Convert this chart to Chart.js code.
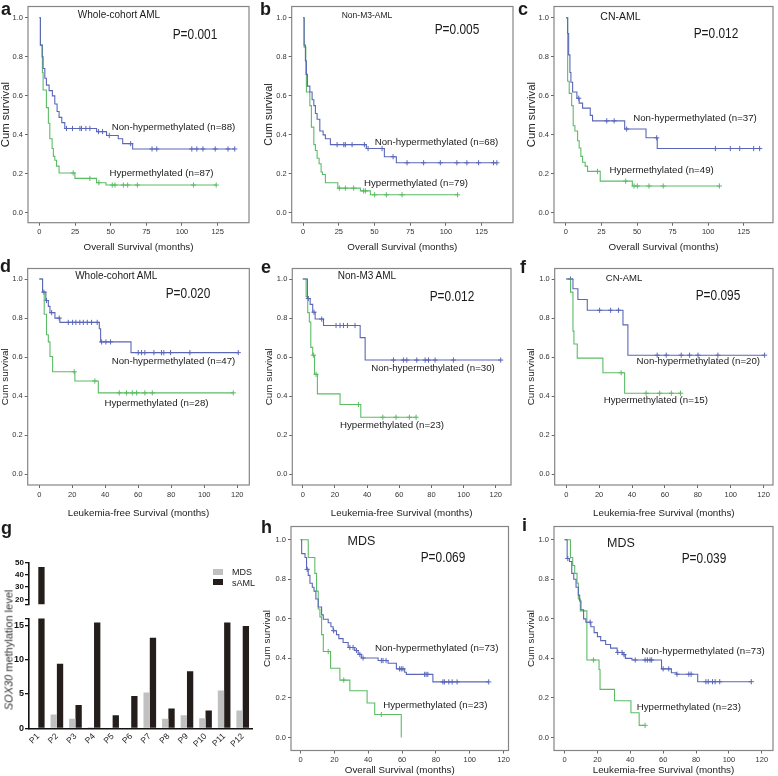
<!DOCTYPE html>
<html>
<head>
<meta charset="utf-8">
<script src="https://cdn.jsdelivr.net/npm/chart.js@4.4.1/dist/chart.umd.min.js"></script>
<style>
  body { margin: 0; background: #fff; overflow: hidden; }
  #fig { position: relative; width: 778px; height: 776px; font-family: "Liberation Sans", Arial, sans-serif; color: #1a1a1a; }
  #fig canvas { position: absolute; }
  .t { position: absolute; white-space: nowrap; line-height: 1; transform: translate(-50%, -50%); }
  .s { font-size: 10px; }
  .p { font-size: 14px; transform: translate(-50%, -50%) scaleX(0.85); }
  .n { font-size: 9.7px; }
  .m { font-size: 12.5px; }
  .L { position: absolute; font-weight: bold; font-size: 18px; line-height: 1; }
  .sw { position: absolute; width: 10px; height: 6px; }
  .lg { position: absolute; font-size: 9px; line-height: 1; transform: translateY(-50%); }
</style>
</head>
<body>
<div id="fig">
  <canvas id="ka"></canvas><canvas id="kb"></canvas><canvas id="kc"></canvas>
  <canvas id="kd"></canvas><canvas id="ke"></canvas><canvas id="kf"></canvas>
  <canvas id="gUp"></canvas><canvas id="gLow"></canvas>
  <canvas id="kh"></canvas><canvas id="ki"></canvas>

  <!-- panel letters -->
  <div class="L" style="left:1px;top:0px">a</div>
  <div class="L" style="left:260px;top:0px">b</div>
  <div class="L" style="left:518px;top:0px">c</div>
  <div class="L" style="left:0px;top:257px">d</div>
  <div class="L" style="left:261px;top:258px">e</div>
  <div class="L" style="left:520px;top:258px">f</div>
  <div class="L" style="left:1px;top:519px">g</div>
  <div class="L" style="left:261px;top:518px">h</div>
  <div class="L" style="left:522px;top:516px">i</div>

  <!-- a -->
  <div class="t s" style="left:119px;top:15px">Whole-cohort AML</div>
  <div class="t p" style="left:195px;top:34px">P=0.001</div>
  <div class="t n" style="left:173.5px;top:127px">Non-hypermethylated (n=88)</div>
  <div class="t n" style="left:161.5px;top:173px">Hypermethylated (n=87)</div>
  <!-- b -->
  <div class="t s" style="left:367px;top:15px;font-size:8.5px">Non-M3-AML</div>
  <div class="t p" style="left:457px;top:29px">P=0.005</div>
  <div class="t n" style="left:436.5px;top:142px">Non-hypermethylated (n=68)</div>
  <div class="t n" style="left:416px;top:183px">Hypermethylated (n=79)</div>
  <!-- c -->
  <div class="t s" style="left:620.5px;top:16px;font-size:10.5px">CN-AML</div>
  <div class="t p" style="left:716px;top:33px">P=0.012</div>
  <div class="t n" style="left:695px;top:118px">Non-hypermethylated (n=37)</div>
  <div class="t n" style="left:661.7px;top:170px">Hypermethylated (n=49)</div>
  <!-- d -->
  <div class="t s" style="left:116.3px;top:276px">Whole-cohort AML</div>
  <div class="t p" style="left:187.5px;top:293px">P=0.020</div>
  <div class="t n" style="left:173.5px;top:361px">Non-hypermethylated (n=47)</div>
  <div class="t n" style="left:156.5px;top:403px">Hypermethylated (n=28)</div>
  <!-- e -->
  <div class="t s" style="left:367px;top:276px">Non-M3 AML</div>
  <div class="t p" style="left:452px;top:296px">P=0.012</div>
  <div class="t n" style="left:433px;top:368px">Non-hypermethylated (n=30)</div>
  <div class="t n" style="left:392px;top:425px">Hypermethylated (n=23)</div>
  <!-- f -->
  <div class="t s" style="left:624px;top:278px;font-size:9.5px">CN-AML</div>
  <div class="t p" style="left:717.7px;top:295px">P=0.095</div>
  <div class="t n" style="left:698.3px;top:361px">Non-hypermethylated (n=20)</div>
  <div class="t n" style="left:655.8px;top:400px">Hypermethylated (n=15)</div>
  <!-- h -->
  <div class="t m" style="left:361.5px;top:541px">MDS</div>
  <div class="t p" style="left:443px;top:557px">P=0.069</div>
  <div class="t n" style="left:436.7px;top:648px">Non-hypermethylated (n=73)</div>
  <div class="t n" style="left:435.3px;top:705px">Hypermethylated (n=23)</div>
  <!-- i -->
  <div class="t m" style="left:621px;top:543px">MDS</div>
  <div class="t p" style="left:703.5px;top:558px">P=0.039</div>
  <div class="t n" style="left:703px;top:651px">Non-hypermethylated (n=73)</div>
  <div class="t n" style="left:688.8px;top:707px">Hypermethylated (n=23)</div>

  <!-- g -->
  <div class="t" style="left:8.5px;top:650px;font-size:11px;color:#333;transform:translate(-50%,-50%) rotate(-90deg)"><i>SOX30</i> methylation level</div>
  <div class="sw" style="left:213px;top:569px;background:#c0c0c0"></div>
  <div class="lg" style="left:232px;top:572px">MDS</div>
  <div class="sw" style="left:213px;top:579px;background:#231e1b"></div>
  <div class="lg" style="left:232px;top:582.5px">sAML</div>
</div>

<script>
// ---- tick labels ----
const survTicks = [0, 0.2, 0.4, 0.6, 0.8, 1.0];
const osTicks = [0, 25, 50, 75, 100, 125];
const lfsTicks = [0, 20, 40, 60, 80, 100, 120];

// ---- a: whole-cohort AML, overall survival ----
const aNonT = [0, 0.7, 1.9, 2.6, 3.8, 4.9, 6.8, 9.1, 10.8, 12.4, 13.8, 15.7, 17.8, 40.1, 47.1, 55.3, 58.4, 65.4, 137];
const aNonS = [1, 0.86, 0.80, 0.74, 0.69, 0.655, 0.627, 0.60, 0.558, 0.52, 0.49, 0.463, 0.433, 0.417, 0.397, 0.38, 0.355, 0.328, 0.328];
const aNonC = [19.0, 23.2, 28.4, 29.5, 32.6, 35.4, 41.5, 44.3, 49, 64.0, 79.0, 82.3, 106.9, 110.4, 114.7, 123.3, 132.3, 137];
const aHypT = [0, 0.7, 2.1, 2.6, 4.9, 6.3, 7.3, 8.9, 9.8, 10.8, 12.0, 13.8, 24.9, 40.1, 46.7, 124];
const aHypS = [1, 0.86, 0.72, 0.63, 0.54, 0.46, 0.38, 0.33, 0.29, 0.27, 0.24, 0.205, 0.177, 0.155, 0.143, 0.143];
const aHypC = [23.7, 35.4, 41.7, 51.1, 53.0, 58.9, 61.9, 68.7, 108.1, 124];

// ---- b: non-M3 AML, overall survival ----
const bNonT = [0, 0.7, 1.6, 2.3, 3.0, 4.7, 6.3, 7.5, 8.6, 9.8, 11.7, 14.0, 15.6, 19.1, 44.3, 56.9, 65.3, 135.7];
const bNonS = [1, 0.86, 0.78, 0.71, 0.65, 0.62, 0.58, 0.55, 0.51, 0.48, 0.42, 0.40, 0.38, 0.35, 0.33, 0.288, 0.257, 0.257];
const bNonC = [23.8, 28.5, 29.6, 34.3, 42.9, 45.5, 55.3, 63.0, 72.8, 84.4, 96.1, 107.7, 114.7, 122.9, 133.4, 135.7];
const bHypT = [0, 0.7, 1.9, 2.3, 4.7, 5.8, 7.5, 8.6, 9.8, 11.2, 12.6, 13.5, 15.6, 24.3, 40.1, 47.1, 108.2];
const bHypS = [1, 0.85, 0.71, 0.62, 0.55, 0.44, 0.35, 0.32, 0.28, 0.252, 0.21, 0.197, 0.155, 0.127, 0.113, 0.093, 0.093];
const bHypC = [25.4, 29.6, 35.4, 42.4, 43.6, 50.1, 58.3, 69.3, 108.2];

// ---- c: CN-AML, overall survival ----
const cNonT = [0, 1.2, 1.9, 2.8, 3.5, 4.7, 7.7, 9.3, 11.7, 17.1, 18.7, 41.3, 56.3, 64.2, 136.2];
const cNonS = [1, 0.92, 0.81, 0.72, 0.67, 0.62, 0.588, 0.563, 0.537, 0.5, 0.472, 0.43, 0.385, 0.33, 0.33];
const cNonC = [9.0, 28.7, 33.9, 42.7, 63.8, 105.1, 115.6, 122.2, 132.0, 136.2];
const cHypT = [0, 1.2, 2.3, 4.0, 5.1, 6.3, 8.2, 9.3, 10.5, 11.7, 13.5, 15.2, 24.1, 46.7, 107.9];
const cHypS = [1, 0.675, 0.613, 0.55, 0.447, 0.42, 0.37, 0.333, 0.29, 0.26, 0.24, 0.213, 0.163, 0.138, 0.138];
const cHypC = [22.2, 42.0, 47.9, 50.2, 58.4, 68.4, 107.9];

// ---- d: whole-cohort AML, leukemia-free survival ----
const dNonT = [0, 2.0, 4.0, 5.5, 6.5, 9.5, 12.5, 36.4, 37.2, 55.6, 120.6];
const dNonS = [1, 0.933, 0.89, 0.86, 0.828, 0.80, 0.778, 0.745, 0.678, 0.623, 0.623];
const dNonC = [2.8, 4.4, 7.5, 12.1, 17.6, 20.2, 22.2, 24.6, 26.7, 29.1, 31.7, 35.1, 37.8, 40.4, 43.2, 60.0, 62.0, 64.0, 69.5, 74.1, 75.5, 79.6, 91.3, 120.6];
const dHypT = [0, 2.0, 3.0, 4.4, 5.5, 6.5, 8.1, 21.6, 35.8, 117.6];
const dHypS = [1, 0.933, 0.82, 0.715, 0.678, 0.603, 0.525, 0.478, 0.417, 0.417];
const dHypC = [21.2, 33.7, 48.5, 52.9, 56.4, 59.0, 64.0, 68.5, 117.6];

// ---- e: non-M3 AML, leukemia-free survival ----
const eNonT = [0, 2.9, 4.6, 6.2, 7.7, 12.9, 35.7, 38.8, 123.1];
const eNonS = [1, 0.90, 0.87, 0.83, 0.795, 0.762, 0.70, 0.585, 0.585];
const eNonC = [3.5, 7.0, 11.8, 20.7, 23.2, 25.3, 27.8, 32.5, 56.4, 62.6, 64.7, 70.9, 76.1, 78.2, 82.3, 93.7, 123.1];
const eHypT = [0, 2.1, 3.1, 4.1, 5.0, 6.2, 7.3, 9.1, 23.2, 36.1, 70.5];
const eHypS = [1, 0.91, 0.828, 0.78, 0.65, 0.61, 0.512, 0.412, 0.357, 0.292, 0.292];
const eHypC = [6.6, 8.3, 34.6, 49.8, 58.0, 66.3, 70.5];

// ---- f: CN-AML, leukemia-free survival ----
const fNonT = [0, 4.1, 7.1, 12.8, 34.5, 37.5, 120.6];
const fNonS = [1, 0.95, 0.895, 0.84, 0.765, 0.61, 0.61];
const fNonC = [2.6, 20.3, 27.0, 31.8, 55.3, 60.8, 69.9, 75.0, 80.1, 92.2, 120.6];
const fHypT = [0, 2.6, 4.1, 4.7, 6.7, 22.3, 35.5, 69.5];
const fHypS = [1, 0.933, 0.733, 0.667, 0.595, 0.52, 0.415, 0.415];
const fHypC = [33.4, 48.6, 56.8, 63.9, 69.5];

// ---- h: MDS, overall survival ----
const hNonT = [0, 0.6, 2.6, 3.5, 4.5, 5.5, 6.9, 7.9, 9.0, 10.4, 12.4, 13.4, 16.3, 17.9, 19.2, 21.2, 22.6, 25.1, 28.1, 32.0, 34.0, 35.9, 45.8, 51.7, 56.6, 61.5, 62.5, 78.2, 111.2];
const hNonS = [1, 0.93, 0.91, 0.85, 0.82, 0.78, 0.76, 0.74, 0.70, 0.66, 0.62, 0.598, 0.58, 0.56, 0.54, 0.52, 0.50, 0.48, 0.455, 0.44, 0.42, 0.402, 0.389, 0.375, 0.347, 0.33, 0.319, 0.281, 0.281];
const hNonC = [3.9, 19.5, 29.1, 31.0, 33.0, 35.0, 36.9, 47.7, 48.7, 50.5, 58.5, 59.5, 60.5, 73.3, 74.2, 75.2, 84.1, 85.0, 87.6, 89.6, 92.5, 111.2];
const hHypT = [0, 4.5, 8.4, 9.4, 10.4, 11.4, 12.4, 13.4, 17.7, 23.2, 29.1, 39.3, 43.8, 59.5];
const hHypS = [1, 0.91, 0.83, 0.74, 0.65, 0.61, 0.52, 0.435, 0.35, 0.29, 0.236, 0.174, 0.116, 0];
const hHypC = [16.3, 25.5, 47.7];

// ---- i: MDS, leukemia-free survival ----
const iNonT = [0, 1.6, 3.0, 4.4, 5.6, 7.0, 8.4, 9.2, 10.0, 11.6, 13.0, 16.0, 18.0, 20.0, 22.0, 25.0, 28.0, 32.0, 35.6, 37.0, 41.0, 59.0, 65.0, 68.0, 81.0, 113.6];
const iNonS = [1, 0.905, 0.89, 0.83, 0.80, 0.76, 0.72, 0.69, 0.646, 0.60, 0.583, 0.56, 0.53, 0.51, 0.49, 0.47, 0.452, 0.43, 0.419, 0.40, 0.392, 0.347, 0.327, 0.32, 0.282, 0.282];
const iNonC = [2.0, 15.6, 32.4, 35.0, 36.2, 43.0, 49.0, 50.4, 52.0, 53.0, 60.0, 63.4, 68.4, 75.6, 77.0, 86.0, 87.4, 90.0, 91.6, 94.4, 113.6];
const iHypT = [0, 3.6, 5.0, 6.2, 7.6, 8.4, 9.6, 13.6, 21.0, 21.6, 30.4, 40.4, 45.4, 49];
const iHypS = [1, 0.91, 0.87, 0.83, 0.78, 0.70, 0.64, 0.392, 0.344, 0.243, 0.186, 0.125, 0.061, 0.061];
const iHypC = [17.6, 49];

// ---- g: SOX30 methylation, paired MDS / sAML ----
const gPatients = ['P1', 'P2', 'P3', 'P4', 'P5', 'P6', 'P7', 'P8', 'P9', 'P10', 'P11', 'P12'];
const gMDS = [0, 2.0, 1.4, 0.15, 0, 0, 5.2, 1.4, 1.9, 1.45, 5.5, 2.6];
const gSAML = [46.5, 9.4, 3.4, 15.4, 1.9, 4.7, 13.2, 2.9, 8.3, 2.6, 15.4, 14.9];
const gUpTicks = [16, 20, 30, 40, 50];
const gLowTicks = [0, 5, 10, 15, 16];

const BLUE = '#5a67b8';
const GREEN = '#5cbc66';
const MDS_GRAY = '#c0c0c0';
const SAML_DARK = '#231e1b';
const FONT = '"Liberation Sans", Arial, sans-serif';
Chart.defaults.font.family = FONT;

// box around the plotting area, like SPSS output
const frame = {
  id: 'frame',
  afterDraw(chart) {
    const { ctx, chartArea: a } = chart;
    ctx.save();
    ctx.strokeStyle = '#858585';
    ctx.lineWidth = 1.2;
    ctx.strokeRect(a.left, a.top, a.right - a.left, a.bottom - a.top);
    ctx.restore();
  }
};

function stepLine(T, S, color) {
  return {
    data: T.map((t, i) => ({ x: t, y: S[i] })),
    borderColor: color, borderWidth: 1.1, stepped: 'before',
    pointRadius: 0, fill: false
  };
}

// censor ticks sit on the curve at the censoring time
function censors(T, S, C, color) {
  return {
    data: C.map(c => ({ x: c, y: S[T.filter(t => t <= c).length - 1] })),
    showLine: false, pointStyle: 'cross', pointRadius: 2.6,
    pointBorderColor: color, pointBorderWidth: 1
  };
}

function place(cv, rect) {
  cv.style.left = rect[0] + 'px';
  cv.style.top = rect[1] + 'px';
  cv.width = rect[2] - rect[0];
  cv.height = rect[3] - rect[1];
}

function km(id, o) {
  const cv = document.getElementById(id);
  place(cv, o.rect);
  const yW = o.box[0] - o.rect[0];
  const xH = o.rect[3] - o.box[3];
  new Chart(cv, {
    type: 'line',
    data: {
      datasets: [
        stepLine(o.non[0], o.non[1], BLUE),
        stepLine(o.hyp[0], o.hyp[1], GREEN),
        censors(o.non[0], o.non[1], o.non[2], BLUE),
        censors(o.hyp[0], o.hyp[1], o.hyp[2], GREEN)
      ]
    },
    options: {
      responsive: false,
      animation: false,
      layout: { padding: { top: o.box[1] - o.rect[1], right: o.rect[2] - o.box[2], left: 0, bottom: 0 } },
      plugins: { legend: { display: false }, tooltip: { enabled: false } },
      scales: {
        x: {
          type: 'linear', min: o.xr[0], max: o.xr[1],
          afterBuildTicks: s => { s.ticks = o.xt.map(v => ({ value: v })); },
          afterFit: s => { s.height = xH; },
          grid: { drawOnChartArea: false, drawTicks: true, tickLength: 3, color: '#666' },
          border: { display: false },
          ticks: { autoSkip: false, maxRotation: 0, padding: 2, color: '#333', font: { size: 7.5 }, callback: v => String(v) },
          title: { display: true, text: o.xTitle, color: '#222', font: { size: 9.8 }, padding: 0 }
        },
        y: {
          min: o.yr[0], max: o.yr[1],
          afterBuildTicks: s => { s.ticks = survTicks.map(v => ({ value: v })); },
          afterFit: s => { s.width = yW; },
          grid: { drawOnChartArea: false, drawTicks: true, tickLength: 3, color: '#666' },
          border: { display: false },
          ticks: { autoSkip: false, padding: 2, color: '#333', font: { size: 7.5 }, callback: v => v.toFixed(1) },
          title: { display: true, text: 'Cum survival', color: '#222', font: { size: o.yTitle }, padding: 0 }
        }
      }
    },
    plugins: [frame]
  });
}

const OS = 'Overall Survival (months)';
const LFS = 'Leukemia-free Survival (months)';
const row1Y = [-0.05, 1.058], row2Y = [-0.055, 1.054], row3Y = [-0.066, 1.067];

km('ka', { rect: [-1, 0, 256, 253], box: [28, 1, 249, 222.7], xr: [-8, 147], yr: row1Y, xt: osTicks, xTitle: OS, yTitle: 11.3, non: [aNonT, aNonS, aNonC], hyp: [aHypT, aHypS, aHypC] });
km('kb', { rect: [263, 0, 518, 253], box: [291.7, 1, 513, 222.7], xr: [-8, 147], yr: row1Y, xt: osTicks, xTitle: OS, yTitle: 10.8, non: [bNonT, bNonS, bNonC], hyp: [bHypT, bHypS, bHypC] });
km('kc', { rect: [525, 0, 778, 253], box: [554, 1, 774, 222.7], xr: [-8.4, 145.6], yr: row1Y, xt: osTicks, xTitle: OS, yTitle: 11.3, non: [cNonT, cNonS, cNonC], hyp: [cHypT, cHypS, cHypC] });

km('kd', { rect: [-1, 262, 256, 519], box: [27.7, 263.3, 249.3, 485], xr: [-7, 127.3], yr: row2Y, xt: lfsTicks, xTitle: LFS, yTitle: 9.9, non: [dNonT, dNonS, dNonC], hyp: [dHypT, dHypS, dHypC] });
km('ke', { rect: [263, 262, 518, 519], box: [292.3, 263.3, 511, 485], xr: [-6.5, 129.5], yr: row2Y, xt: lfsTicks, xTitle: LFS, yTitle: 9.9, non: [eNonT, eNonS, eNonC], hyp: [eHypT, eHypS, eHypC] });
km('kf', { rect: [525, 262, 778, 519], box: [554.7, 263.3, 773, 485], xr: [-7, 125.7], yr: row2Y, xt: lfsTicks, xTitle: LFS, yTitle: 9.9, non: [fNonT, fNonS, fNonC], hyp: [fHypT, fHypS, fHypC] });

km('kh', { rect: [261, 520, 516, 776], box: [291, 523.3, 508.5, 750.5], xr: [-5.7, 122.9], yr: row3Y, xt: lfsTicks, xTitle: OS, yTitle: 9.9, non: [hNonT, hNonS, hNonC], hyp: [hHypT, hHypS, hHypC] });
km('ki', { rect: [525, 520, 778, 776], box: [554, 523.3, 776, 750.5], xr: [-6.4, 126.8], yr: row3Y, xt: lfsTicks, xTitle: LFS, yTitle: 9.9, non: [iNonT, iNonS, iNonC], hyp: [iHypT, iHypS, iHypC] });

// ---- g: broken y axis drawn as two stacked bar charts sharing the categories ----
function gBars() {
  return [
    { label: 'MDS', data: gMDS, backgroundColor: MDS_GRAY, clip: 0 },
    { label: 'sAML', data: gSAML, backgroundColor: SAML_DARK, clip: 0 }
  ];
}
// the 16 tick on each half only marks the break, it carries no label
const gYAxis = (min, max, ticks, size) => ({
  min: min, max: max,
  afterBuildTicks: s => { s.ticks = ticks.map(v => ({ value: v })); },
  afterFit: s => { s.width = 29; },
  grid: { drawOnChartArea: false, drawTicks: true, tickLength: 4, color: '#111', lineWidth: 1.3 },
  border: { display: true, color: '#111', width: 1.6 },
  ticks: { autoSkip: false, padding: 1, color: '#111', font: { size: size, weight: 'bold' }, callback: v => v === 16 ? '' : String(v) }
});

const gUpCv = document.getElementById('gUp');
place(gUpCv, [0, 556, 260, 610]);
new Chart(gUpCv, {
  type: 'bar',
  data: { labels: gPatients, datasets: gBars() },
  options: {
    responsive: false, animation: false,
    categoryPercentage: 0.68, barPercentage: 1,
    layout: { padding: { top: 6.7, right: 8, left: 0, bottom: 0 } },
    plugins: { legend: { display: false }, tooltip: { enabled: false } },
    scales: {
      x: { display: false },
      y: gYAxis(16, 50, gUpTicks, 8)
    }
  }
});

const gLowCv = document.getElementById('gLow');
place(gLowCv, [0, 612, 260, 776]);
new Chart(gLowCv, {
  type: 'bar',
  data: { labels: gPatients, datasets: gBars() },
  options: {
    responsive: false, animation: false,
    categoryPercentage: 0.68, barPercentage: 1,
    layout: { padding: { top: 5.7, right: 8, left: 0, bottom: 0 } },
    plugins: { legend: { display: false }, tooltip: { enabled: false } },
    scales: {
      x: {
        afterFit: s => { s.height = 47.7; },
        grid: { drawOnChartArea: false, drawTicks: false },
        border: { display: true, color: '#111', width: 1.6 },
        ticks: { autoSkip: false, minRotation: 45, maxRotation: 45, padding: 3, color: '#222', font: { size: 8.5 } }
      },
      y: gYAxis(0, 16, gLowTicks, 9)
    }
  }
});
</script>
</body>
</html>
